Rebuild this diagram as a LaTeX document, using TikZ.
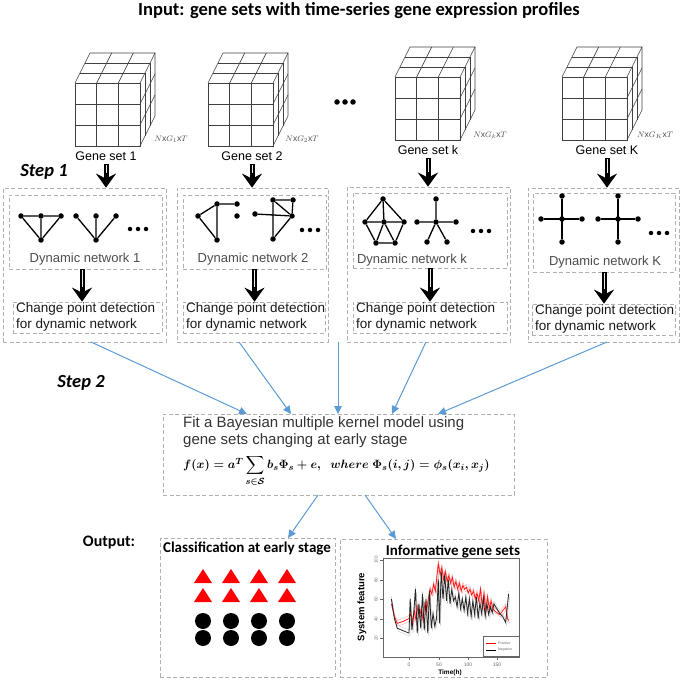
\documentclass[tikz,border=0pt]{standalone}
\usepackage{amsmath,amssymb}
\usepackage{fontspec}
\setmainfont{Liberation Sans}
\newfontfamily\carl{Carlito}
\usetikzlibrary{arrows.meta,calc}
\definecolor{arrblue}{RGB}{91,155,213}
\definecolor{boxgray}{RGB}{175,175,180}
\newsavebox\formulabox
\newcommand\gscube[2]{%
 \begin{scope}[shift={(#1,#2)}, cubeline]
  \draw (0,0) rectangle (65,63);
  \foreach \i in {1,2} {\draw ({\i*65/3},0) -- ({\i*65/3},63); \draw (0,{\i*21}) -- (65,{\i*21});}
  \draw (0,0) -- (15,-30) -- (80,-30) -- (65,0);
  \foreach \i in {1,2} {\draw ({\i*5},{-\i*10}) -- ({65+\i*5},{-\i*10}); \draw ({\i*65/3},0) -- ({\i*65/3+15},-30);}
  \draw (80,-30) -- (80,33) -- (65,63);
  \foreach \i in {1,2} {\draw (65,{\i*21}) -- (80,{\i*21-30}); \draw ({65+\i*5},{-\i*10}) -- ({65+\i*5},{63-\i*10});}
 \end{scope}}
\newcommand\redseries[1]{\draw[#1] plot coordinates {(-30,55) (-25,42) (-20,35) (-10,37) (0,40) (3,45) (6,36) (9,48) (12,38) (15,52) (18,42) (21,50) (24,38) (27,55) (30,48) (33,60) (36,70) (39,65) (42,75) (45,68) (48,85) (50,96) (53,85) (56,92) (59,80) (62,88) (65,78) (68,84) (71,76) (74,82) (77,72) (80,78) (83,70) (86,76) (89,68) (92,74) (95,70) (98,72) (101,66) (104,70) (107,64) (110,68) (113,60) (116,66) (119,58) (122,70) (125,52) (128,66) (131,48) (134,62) (137,50) (140,58) (143,50) (146,48) (150,46) (155,44) (160,48) (165,52) (168,40) (170,38)};}
\newcommand\blackseries[1]{\draw[#1] plot coordinates {(-30,60) (-25,40) (-20,30) (0,25) (2,60) (5,28) (8,45) (11,70) (14,25) (17,55) (20,30) (23,65) (26,28) (29,60) (32,25) (35,68) (38,30) (41,45) (44,32) (47,40) (50,80) (52,35) (55,88) (58,60) (61,85) (64,58) (67,80) (70,55) (73,70) (76,58) (79,62) (82,52) (85,66) (88,50) (91,60) (94,48) (97,62) (100,45) (103,60) (106,42) (109,58) (112,44) (115,62) (118,40) (121,56) (124,45) (127,60) (130,42) (133,55) (136,44) (139,52) (142,46) (145,55) (150,50) (155,45) (160,42) (165,36) (170,65)};}
\begin{document}
\sbox\formulabox{\fontsize{12.8}{14}\selectfont\boldmath$f(x)=a^T\,\smash[t]{\displaystyle\sum_{s\in\mathcal{S}}}\,b_s\Phi_s+e,\ \ where\ \Phi_s(i,j)=\phi_s(x_i,x_j)$}%
\begin{tikzpicture}[x=1pt,y=-1pt,
  cubeline/.style={draw=black!75, line width=0.6pt},
  dbox/.style={draw=boxgray, dash pattern=on 4pt off 2.5pt, line width=0.7pt, inner sep=0pt},
  gn/.style={circle, fill=black, inner sep=0pt, minimum size=5.5pt},
  dotn/.style={circle, fill=black, inner sep=0pt, minimum size=4.5pt},
  ge/.style={line width=1.3pt},
  lbl/.style={font=\fontsize{12.5}{14}\selectfont},
  dimlbl/.style={font=\fontsize{8.5}{10}\selectfont, text=black!70},
  netlbl/.style={font=\fontsize{13}{15}\selectfont, text=black!70},
  cptext/.style={anchor=west, font=\fontsize{13.5}{16}\selectfont, align=left, inner sep=0pt, text=black!90},
  steplbl/.style={font=\carl\bfseries\itshape\fontsize{18.5}{20}\selectfont},
  bigarr/.style={line width=5pt, black, -{Stealth[width=20pt,length=14pt,inset=5pt]}, postaction={draw=gray!15, line width=1pt, -, shorten >=15pt, shorten <=1pt}},
  bluearr/.style={draw=arrblue, line width=1pt, -{Triangle[width=7.5pt,length=8pt]}},
  outtitle/.style={font=\carl\bfseries\fontsize{15}{17}\selectfont}]
\useasboundingbox (0,0) rectangle (685,684);

% title
\node[font=\carl\bfseries\fontsize{18.5}{20}\selectfont] (title) at (359,11) {Input: gene sets with time-series gene expression profiles};

% cubes
\gscube{75}{83}
\gscube{208}{83}
\gscube{395}{77}
\gscube{562}{77}
\node[dimlbl] (dim1) at (171,139) {$N\mathrm{x}G_1\mathrm{x}T$};
\node[dimlbl] (dim2) at (302,139) {$N\mathrm{x}G_2\mathrm{x}T$};
\node[dimlbl] (dimk) at (490,135) {$N\mathrm{x}G_k\mathrm{x}T$};
\node[dimlbl] (dimK) at (655,135) {$N\mathrm{x}G_K\mathrm{x}T$};
\node[dotn, minimum size=5.5pt] (cd1) at (337,102) {};
\node[dotn, minimum size=5.5pt] (cd2) at (345,102) {};
\node[dotn, minimum size=5.5pt] (cd3) at (353,102) {};

\node[lbl] (gs1) at (106,156) {Gene set 1};
\node[lbl] (gs2) at (252,156) {Gene set 2};
\node[lbl] (gsk) at (428,150) {Gene set k};
\node[lbl] (gsK) at (607,150) {Gene set K};

\node[steplbl] (step1) at (44,172) {Step 1};

% outer boxes
\node[dbox, minimum width=163pt, minimum height=154pt] (out1) at (84.5,265) {};
\node[dbox, minimum width=151pt, minimum height=154pt] (out2) at (252.5,265) {};
\node[dbox, minimum width=163pt, minimum height=155pt] (out3) at (428.5,264.5) {};
\node[dbox, minimum width=151pt, minimum height=154pt] (out4) at (603.5,265) {};

% network boxes
\node[dbox, minimum width=153pt, minimum height=74pt] (net1) at (85.5,232) {};
\node[dbox, minimum width=143pt, minimum height=74pt] (net2) at (254.5,232) {};
\node[dbox, minimum width=154pt, minimum height=75pt] (net3) at (430,230.5) {};
\node[dbox, minimum width=142pt, minimum height=79pt] (net4) at (604,232.5) {};

\node[netlbl] (dn1) at (85,259) {Dynamic network 1};
\node[netlbl] (dn2) at (253,259) {Dynamic network 2};
\node[netlbl] (dnk) at (412,260) {Dynamic network k};
\node[netlbl] (dnK) at (605,262) {Dynamic network K};

% change point boxes
\node[dbox, minimum width=149pt, minimum height=31pt] (cp1) at (87.5,317.5) {};
\node[dbox, minimum width=142pt, minimum height=31pt] (cp2) at (254,317.5) {};
\node[dbox, minimum width=154pt, minimum height=31pt] (cp3) at (430,317.5) {};
\node[dbox, minimum width=143pt, minimum height=31pt] (cp4) at (603.5,319.5) {};
\node[cptext] (cpt1) at (16,317.5) {Change point detection\\for dynamic network};
\node[cptext] (cpt2) at (186,317.5) {Change point detection\\for dynamic network};
\node[cptext] (cpt3) at (356,317.5) {Change point detection\\for dynamic network};
\node[cptext] (cpt4) at (535,319.5) {Change point detection\\for dynamic network};

% networks col1
\node[gn] (a1) at (21,216) {}; \node[gn] (a2) at (41,216) {}; \node[gn] (a3) at (61,216) {}; \node[gn] (a4) at (41,240) {};
\draw[ge] (a1) -- (a2) -- (a3) (a1) -- (a4) (a2) -- (a4) (a3) -- (a4);
\node[gn] (b1) at (76,216) {}; \node[gn] (b2) at (96,216) {}; \node[gn] (b3) at (116,216) {}; \node[gn] (b4) at (96,240) {};
\draw[ge] (b1) -- (b4) (b2) -- (b4) (b3) -- (b4);
\node[dotn] (x11) at (130,229) {}; \node[dotn] (x12) at (138,229) {}; \node[dotn] (x13) at (146,229) {};
% col2
\node[gn] (c1) at (198,216) {}; \node[gn] (c2) at (217,204) {}; \node[gn] (c3) at (237,204) {}; \node[gn] (c4) at (237,216) {}; \node[gn] (c5) at (217,240) {};
\draw[ge] (c1) -- (c2) -- (c3) (c2) -- (c5) (c1) -- (c5);
\node[gn] (e1) at (255,214) {}; \node[gn] (e2) at (273,200) {}; \node[gn] (e3) at (293,200) {}; \node[gn] (e4) at (292,216) {}; \node[gn] (e5) at (273,239) {};
\draw[ge] (e1) -- (e4) (e2) -- (e3) (e2) -- (e5) (e2) -- (e4) (e3) -- (e4) (e4) -- (e5);
\node[dotn] (x21) at (302,230) {}; \node[dotn] (x22) at (310,230) {}; \node[dotn] (x23) at (318,230) {};
% col3
\node[gn] (f1) at (383,199) {}; \node[gn] (f2) at (365,222) {}; \node[gn] (f3) at (384,222) {}; \node[gn] (f4) at (404,222) {}; \node[gn] (f5) at (376,243) {}; \node[gn] (f6) at (395,243) {};
\draw[ge] (f1) -- (f2) (f1) -- (f3) (f1) -- (f4) (f2) -- (f3) -- (f4) (f2) -- (f5) -- (f6) -- (f4) (f3) -- (f5) (f3) -- (f6);
\node[gn] (g0) at (436,222) {}; \node[gn] (g1) at (436,199) {}; \node[gn] (g2) at (417,222) {}; \node[gn] (g3) at (456,222) {}; \node[gn] (g4) at (427,242) {}; \node[gn] (g5) at (447,242) {};
\draw[ge] (g0) -- (g1) (g0) -- (g2) (g0) -- (g3) (g0) -- (g4) (g0) -- (g5);
\node[dotn] (x31) at (473,231) {}; \node[dotn] (x32) at (481,231) {}; \node[dotn] (x33) at (489,231) {};
% col4
\node[gn] (h0) at (562,219) {}; \node[gn] (h1) at (562,196) {}; \node[gn] (h2) at (541,219) {}; \node[gn] (h3) at (582,219) {}; \node[gn] (h4) at (562,242) {};
\draw[ge] (h1) -- (h4) (h2) -- (h3);
\node[gn] (i0) at (618,219) {}; \node[gn] (i1) at (618,196) {}; \node[gn] (i2) at (598,219) {}; \node[gn] (i3) at (638,219) {}; \node[gn] (i4) at (618,242) {};
\draw[ge] (i1) -- (i4) (i2) -- (i3);
\node[dotn] (x41) at (651,233) {}; \node[dotn] (x42) at (659,233) {}; \node[dotn] (x43) at (667,233) {};

% black arrows
\draw[bigarr] (gs1.south) -- (gs1.south |- out1.north);
\draw[bigarr] (gs2.south) -- (gs2.south |- out2.north);
\draw[bigarr] (gsk.south) -- (gsk.south |- out3.north);
\draw[bigarr] (gsK.south) -- (gsK.south |- out4.north);
\coordinate (k1) at (82,0);
\draw[bigarr] (net1.south -| k1) -- (cp1.north -| k1);
\draw[bigarr] (net2.south) -- (net2.south |- cp2.north);
\draw[bigarr] (net3.south) -- (net3.south |- cp3.north);
\draw[bigarr] (net4.south) -- (net4.south |- cp4.north);

% step 2
\node[steplbl] (step2) at (81,383) {Step 2};

% model box
\node[dbox, minimum width=351pt, minimum height=81pt] (model) at (338.5,454.5) {};
\node[anchor=north west, align=left, font=\fontsize{15}{16.5}\selectfont, text=black!80, inner sep=0pt] (mtext) at (183,416.5) {Fit a Bayesian multiple kernel model using\\gene sets changing at early stage};
\node[inner sep=0pt, anchor=base west] (formula) at (183,468.5) {\usebox\formulabox};

% blue arrows
\coordinate (bs1) at (91,342); \coordinate (be1) at (247,414);
\coordinate (bs2) at (239,342); \coordinate (be2) at (291,414);
\coordinate (bs3) at (338,342); \coordinate (be3) at (338,414);
\coordinate (bs4) at (426,342); \coordinate (be4) at (392,414);
\coordinate (bs5) at (607,342); \coordinate (be5) at (438,414);
\draw[bluearr] (bs1) -- (be1);
\draw[bluearr] (bs2) -- (be2);
\draw[bluearr] (bs3) -- (be3);
\draw[bluearr] (bs4) -- (be4);
\draw[bluearr] (bs5) -- (be5);

% output
\node[font=\carl\bfseries\fontsize{16}{18}\selectfont] (output) at (109,543) {Output:};
\node[dbox, minimum width=175pt, minimum height=139pt] (cls) at (247.5,607.5) {};
\node[dbox, minimum width=207pt, minimum height=138pt] (info) at (443.5,608) {};
\coordinate (os1) at (318,495); \coordinate (os2) at (365,495);
\coordinate (oe1) at (288,538); \coordinate (oe2) at (396,539);
\draw[bluearr] (os1) -- (oe1);
\draw[bluearr] (os2) -- (oe2);
\node[outtitle] (clst) at (247,548) {Classification at early stage};
\node[outtitle] (infot) at (453,551) {Informative gene sets};

% triangles & circles
\foreach \x in {203,231,259,287} {
  \fill[red] (\x-9,583) -- (\x,569) -- (\x+9,583) -- cycle;
  \fill[red] (\x-9,602) -- (\x,588) -- (\x+9,602) -- cycle;
  \fill[black] (\x,621) circle (8);
  \fill[black] (\x,638) circle (8);
}

% plot
\draw[black!60, line width=0.5pt] (383,558) rectangle (519,657);
\foreach \v/\y in {100/560,80/580,60/599,40/619,20/638} {
  \draw[black!60, line width=0.4pt] (383,\y) -- (380,\y);
  \node[rotate=90, font=\fontsize{4.5}{5}\selectfont, text=black!55, inner sep=0pt] at (376,\y) {\v};
}
\foreach \t/\x in {0/409,50/439,100/468,150/497} {
  \draw[black!60, line width=0.4pt] (\x,657) -- (\x,660);
  \node[font=\fontsize{5}{6}\selectfont, text=black!60, inner sep=0pt] at (\x,665) {\t};
}
\begin{scope}[shift={(409pt,-657.5pt)}, x=0.586pt, y=0.975pt]
  \blackseries{gray!45, line width=0.4pt, yshift=-3pt, xshift=1pt}
  \blackseries{gray!45, line width=0.4pt, yshift=3pt}
  \redseries{red!35, line width=0.4pt, yshift=3pt}
  \redseries{red!35, line width=0.4pt, yshift=-2.5pt, xshift=1pt}
  \redseries{red!90, line width=0.8pt}
  \blackseries{black!85, line width=0.8pt}
\end{scope}
\draw[black!60, line width=0.4pt, fill=white] (483,636) rectangle (519,656);
\draw[red, line width=0.7pt] (486,643) -- (496,643);
\draw[black, line width=0.7pt] (486,650) -- (496,650);
\node[anchor=west, font=\fontsize{3.5}{4}\selectfont, text=black!60, inner sep=0pt] (legp) at (498,643) {Positive};
\node[anchor=west, font=\fontsize{3.5}{4}\selectfont, text=black!60, inner sep=0pt] (legn) at (498,650) {Negative};
\node[font=\bfseries\fontsize{6.5}{7}\selectfont, inner sep=0pt] (xlab) at (450,673) {Time(h)};
\node[rotate=90, font=\bfseries\fontsize{9.5}{11}\selectfont, inner sep=0pt] (ylab) at (362,607) {System feature};
\end{tikzpicture}
\end{document}
